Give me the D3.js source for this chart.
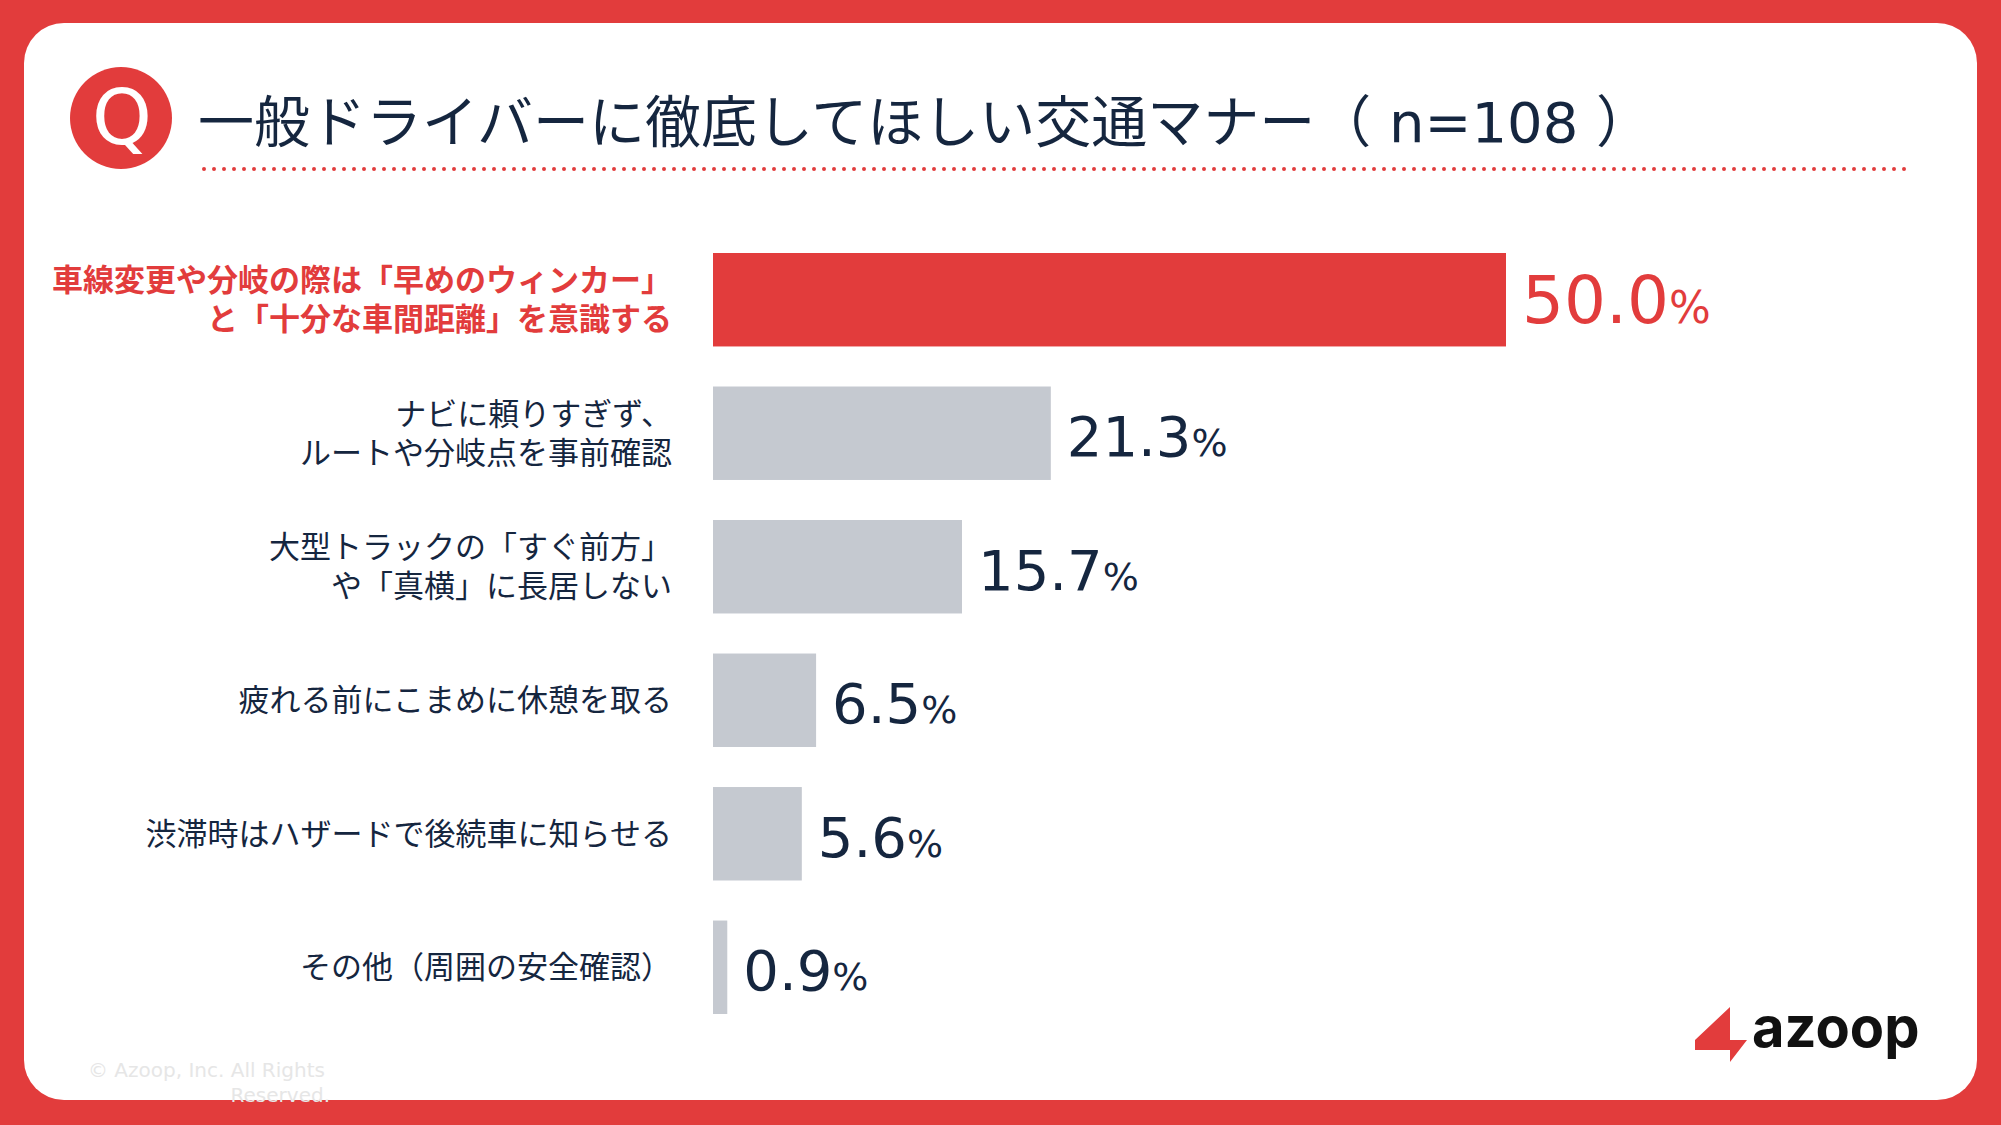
<!DOCTYPE html>
<html><head><meta charset="utf-8">
<script src="https://cdn.jsdelivr.net/npm/d3@7"></script>
<style>body{margin:0;background:#e23c3c;}svg{display:block;font-family:"Noto Sans CJK JP","DejaVu Sans",sans-serif;}</style>
</head><body>
<script>
// data
var categories = [
  ["車線変更や分岐の際は「早めのウィンカー」", "と「十分な車間距離」を意識する"],
  ["ナビに頼りすぎず、", "ルートや分岐点を事前確認"],
  ["大型トラックの「すぐ前方」", "や「真横」に長居しない"],
  ["疲れる前にこまめに休憩を取る"],
  ["渋滞時はハザードで後続車に知らせる"],
  ["その他（周囲の安全確認）"]
];
var values = [50.0, 21.3, 15.7, 6.5, 5.6, 0.9];
var highlight = [true, false, false, false, false, false];
var title = "一般ドライバーに徹底してほしい交通マナー（ n=108 ）";

var W = 2001, H = 1125, red = "#e23c3c", navy = "#15263f", gray = "#c5c9d0";
var svg = d3.select("body").append("svg").attr("width", W).attr("height", H);
svg.append("rect").attr("width", W).attr("height", H).attr("fill", red);
svg.append("rect").attr("x", 24).attr("y", 23).attr("width", 1953).attr("height", 1077)
  .attr("rx", 40).attr("fill", "#fff");

// header
svg.append("circle").attr("cx", 121).attr("cy", 118).attr("r", 51).attr("fill", red);
svg.append("text").attr("x", 122).attr("y", 144).attr("text-anchor", "middle")
  .attr("font-size", 76).attr("font-family", "DejaVu Sans").attr("fill", "#fff").text("Q");
svg.append("text").attr("x", 198).attr("y", 142).attr("font-size", 56).attr("fill", navy)
  .attr("font-family", "DejaVu Sans, Noto Sans CJK JP").text(title);
svg.append("line").attr("x1", 204).attr("x2", 1910).attr("y1", 169).attr("y2", 169)
  .attr("stroke", red).attr("stroke-width", 4).attr("stroke-dasharray", "0 10").attr("stroke-linecap", "round");

// scales
var x = d3.scaleLinear().domain([0, 50]).range([713, 1506]);
var y = d3.scaleBand().domain(d3.range(values.length)).range([253, 1014]).paddingInner(0.3).paddingOuter(0);

var g = svg.append("g");
g.selectAll("rect.bar").data(values).enter().append("rect")
  .attr("x", x(0)).attr("y", (d, i) => y(i))
  .attr("width", d => x(d) - x(0)).attr("height", y.bandwidth())
  .attr("fill", (d, i) => highlight[i] ? red : gray);

// value labels
var vl = g.selectAll("text.val").data(values).enter().append("text")
  .attr("x", d => x(d) + 16).attr("y", (d, i) => y(i) + y.bandwidth() / 2 + 23)
  .attr("fill", (d, i) => highlight[i] ? red : navy)
  .attr("font-family", "DejaVu Sans")
  .attr("font-size", (d, i) => highlight[i] ? 66 : 56);
vl.append("tspan").text(d => d.toFixed(1));
vl.append("tspan").attr("font-size", (d, i) => highlight[i] ? 44 : 38).text("%");

// category labels
categories.forEach(function(lines, i) {
  var t = g.append("text").attr("text-anchor", "end")
    .attr("font-size", 31).attr("fill", highlight[i] ? red : navy)
    .attr("font-weight", highlight[i] ? "bold" : "normal");
  var cy = y(i) + y.bandwidth() / 2;
  lines.forEach(function(l, j) {
    t.append("tspan").attr("x", 672)
      .attr("y", cy + 11 + (j - (lines.length - 1) / 2) * 39).text(l);
  });
});

// copyright
svg.append("text").attr("x", 330).attr("y", 1077).attr("text-anchor", "end")
  .attr("font-size", 20).attr("fill", "#e6e6e6").attr("font-family", "DejaVu Sans")
  .selectAll("tspan").data(["© Azoop, Inc. All Rights", "Reserved."]).enter().append("tspan")
  .attr("x", (d, i) => i ? 330 : 88).attr("text-anchor", (d, i) => i ? "end" : "start")
  .attr("dy", (d, i) => i ? 25 : 0).text(d => d);

// logo
svg.append("path").attr("d", "M1695,1040 L1730,1007 L1730,1040 L1747,1040 L1730,1062 L1730,1050 L1695,1050 Z").attr("fill", red);
svg.append("text").attr("x", 1752).attr("y", 1047).attr("font-size", 56).attr("font-weight", "bold")
  .attr("font-family", "Inter").attr("fill", "#111").text("azoop");
</script>
</body></html>
